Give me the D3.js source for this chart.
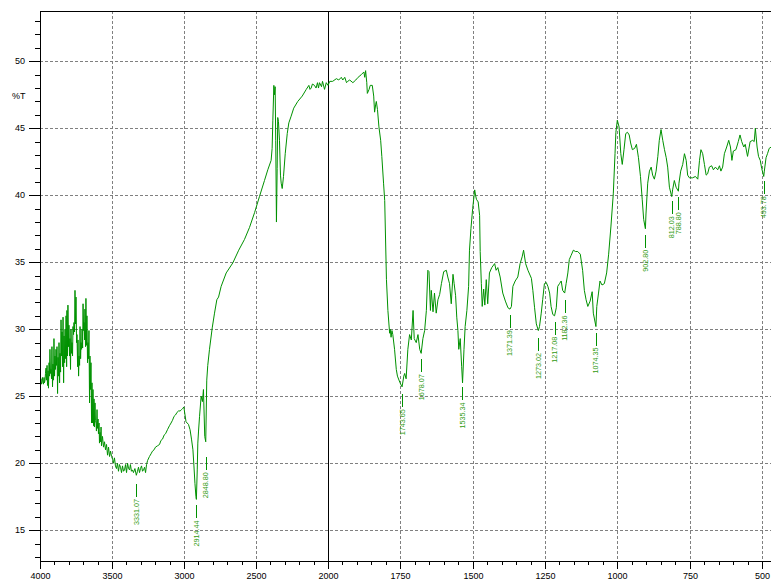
<!DOCTYPE html>
<html>
<head>
<meta charset="utf-8">
<script src="https://cdn.jsdelivr.net/npm/d3@7"></script>
<style>
html,body{margin:0;padding:0;background:#fff;}
svg{display:block;}
text{font-family:"Liberation Sans",Arial,sans-serif;}
</style>
</head>
<body>
<svg id="chart" width="771" height="582"></svg>
<script>
// ---- data: [wavenumber cm-1, %T] ----
const noiseSeg = [
[4000,26.0],[3997,26.2],[3993,26.3],[3990,25.9],[3986,26.1],[3983,26.4],[3979,26.0],[3976,25.9],[3972,26.4],[3969,26.0],
[3965,26.2],[3962,26.7],[3958,27.1],[3955,26.2],[3951,27.3],[3948,25.8],[3944,26.9],[3941,25.6],[3937,27.5],[3934,26.5],
[3931,28.5],[3927,26.7],[3924,27.0],[3920,26.3],[3917,28.7],[3913,25.7],[3910,27.4],[3906,26.2],[3903,29.3],[3899,26.5],
[3896,28.0],[3892,27.0],[3889,28.5],[3885,27.3],[3882,28.7],[3878,25.2],[3875,27.9],[3871,26.5],[3868,29.0],[3864,26.0],
[3861,28.2],[3857,26.8],[3854,30.7],[3850,28.0],[3847,29.8],[3843,27.2],[3840,30.9],[3836,26.0],[3833,29.5],[3829,27.5],
[3826,30.0],[3822,27.8],[3819,31.0],[3815,27.2],[3813,31.4],[3809,28.0],[3806,31.8],[3802,28.7],[3799,30.3],[3795,28.0],
[3792,29.3],[3788,27.0],[3785,30.0],[3781,28.2],[3778,29.0],[3774,28.0],[3771,30.2],[3767,29.6],[3764,30.5],[3760,29.8],
[3757,32.9],[3753,30.4],[3750,32.4],[3746,29.0],[3743,29.6],[3739,27.2],[3736,29.2],[3732,26.5],[3729,28.0],[3725,27.3],
[3722,30.2],[3718,27.8],[3715,29.0],[3711,28.5],[3708,30.0],[3704,28.6],[3701,31.9],[3697,29.9],[3694,30.5],[3690,29.2],
[3688,31.5],[3684,28.7],[3681,32.3],[3677,28.8],[3674,31.0],[3670,27.5],[3667,29.0],[3663,27.8],[3660,29.9],[3656,24.5],
[3653,28.0],[3649,25.5],[3646,27.5],[3642,23.0]
];
const ohSeg = [
[3639,26.0],[3635,23.0],[3632,25.5],[3628,22.8],[3625,24.8],[3622,22.7],[3618,24.5],[3615,23.2],[3611,23.0],[3608,22.4],
[3604,24.0],[3601,22.6],[3597,23.3],[3594,22.2],[3590,23.0],[3587,21.5],[3583,22.3],[3580,21.6],[3576,22.7],[3573,21.3],
[3566,22.0],[3559,21.2],[3552,21.6],[3545,21.0],[3538,21.4],[3531,20.6],[3524,21.2],[3517,20.5],[3510,20.9],[3503,20.5],
[3496,20.3],[3490,20.0],[3483,20.4],[3476,19.8],[3469,19.6],[3462,20.0],[3455,19.4],[3448,19.9],[3441,19.7],[3434,19.3],
[3427,19.8],[3420,19.4],[3413,19.5],[3406,19.9],[3399,19.3],[3392,20.0],[3385,19.6],[3378,19.5],[3372,19.9],[3365,19.4],
[3358,19.5],[3351,19.3],[3341,19.6],[3331,19.1],[3323,19.4],[3316,19.7],[3309,19.3],[3302,19.6],[3295,19.8],[3288,19.4],
[3281,19.5],[3274,19.7],[3267,19.3],[3260,19.9],[3253,20.2]
];
const chSeg = [
[3240,20.5],[3229,20.7],[3219,20.9],[3208,21.0],[3198,21.2],[3184,21.3],[3170,21.4],[3160,21.7],[3149,21.8],[3138,22.1],
[3128,22.2],[3115,22.5],[3101,22.8],[3090,23.0],[3080,23.2],[3069,23.5],[3059,23.6],[3048,23.8],[3038,23.9],[3027,23.9],
[3017,24.0],[3008,24.1],[3001,24.2],[2993,23.6],[2986,23.1],[2978,23.0],[2969,22.9],[2958,22.5],[2948,21.8],[2938,21.0],
[2931,19.8],[2924,18.5],[2917,17.5],[2914,17.3],[2908,19.5],[2904,21.5],[2899,22.4],[2892,23.5],[2881,25.0],[2872,24.6],
[2865,25.5],[2856,22.0],[2849,21.6],[2842,26.2],[2835,27.3],[2823,28.5],[2804,30.1],[2788,31.2],[2772,32.2],[2760,32.4],
[2742,33.2],[2707,34.2],[2661,34.95],[2620,35.9],[2580,36.7],[2545,37.6],[2510,38.7],[2476,39.9],[2441,41.1],[2418,41.9],
[2395,42.6],[2388,43.5],[2383,45.6],[2376,48.2],[2372,47.5],[2367,48.1],[2363,44.1],[2358,38.0],[2353,42.0],[2349,45.8],
[2344,45.5],[2337,44.1],[2330,41.5],[2325,40.9],[2318,40.5],[2309,41.4],[2297,43.1],[2283,44.6],[2272,45.4],[2256,45.9],
[2238,46.5],[2210,47.0],[2179,47.4],[2151,47.9],[2133,48.2],[2125,47.9],[2117,48.0],[2108,48.3],[2094,48.2],[2083,48.0],
[2073,48.4],[2066,48.0],[2059,48.4],[2045,48.1],[2038,48.5],[2024,47.9],[2012,48.4],[2000,48.2]
];
const plateauSeg = [
[1994,48.5],[1984,48.5],[1971,48.7],[1963,48.6],[1954,48.8],[1949,48.6],[1942,48.8],[1936,48.4],[1932,48.5],[1925,48.6],
[1914,48.4],[1904,48.6],[1896,48.8],[1885,49.0],[1876,49.2],[1873,48.8],[1870,49.3],[1866,48.4],[1864,47.6],[1858,47.9],
[1854,48.2],[1847,48.2],[1842,47.4],[1839,46.2],[1835,46.8],[1833,47.0],[1829,46.4],[1824,45.1],[1818,44.1],[1814,42.9],
[1808,40.9],[1804,39.6],[1798,33.7],[1793,31.4],[1787,29.7],[1785,30.0],[1782,29.4],[1779,29.9],[1776,29.6],[1770,28.5],
[1764,27.0],[1760,26.5],[1751,26.0],[1744,25.7],[1738,26.5],[1735,26.7],[1730,26.3],[1724,28.5],[1718,29.6],[1712,29.2],
[1706,31.4],[1702,29.3],[1695,29.0],[1689,29.6],[1683,28.5],[1678,28.2],[1672,29.3],[1666,29.9],[1660,31.4],[1655,34.4],
[1651,34.3],[1646,31.4],[1643,32.9],[1637,31.3],[1632,32.7],[1626,31.2],[1620,32.2],[1614,32.6],[1608,33.4],[1600,34.3],
[1591,34.4],[1586,33.9],[1580,33.4],[1574,31.9],[1568,34.1],[1564,33.4],[1559,32.5],[1555,30.9],[1551,29.9],[1548,28.5],
[1543,29.3],[1538,27.2],[1535,26.0],[1530,28.5],[1526,30.2],[1520,31.4],[1514,33.2],[1511,35.9],[1506,37.5],[1500,39.0]
];
const fingerprintSeg = [
[1493,40.4],[1490,40.0],[1487,39.7],[1481,39.5],[1476,38.5],[1474,35.8],[1470,33.4],[1467,31.7],[1462,33.0],[1458,31.8],
[1453,33.7],[1448,31.9],[1442,34.2],[1434,34.6],[1424,34.9],[1419,34.4],[1413,34.6],[1405,33.9],[1396,32.7],[1387,32.1],
[1378,31.6],[1371,31.5],[1366,31.7],[1361,33.2],[1353,33.6],[1344,33.9],[1336,34.9],[1329,35.4],[1324,35.9],[1317,34.9],
[1309,34.4],[1297,33.8],[1292,32.9],[1286,31.6],[1280,30.4],[1273,29.9],[1269,30.2],[1263,31.2],[1258,32.2],[1252,33.4],
[1246,33.5],[1240,33.2],[1234,32.7],[1229,31.7],[1223,31.1],[1217,31.0],[1211,31.6],[1206,33.2],[1200,33.4],[1194,33.6],
[1189,32.9],[1182,32.7],[1177,33.4],[1171,34.2],[1166,35.2],[1160,35.5],[1152,35.9],[1145,35.8],[1137,35.8],[1128,35.6],
[1120,34.4],[1114,32.9],[1108,32.2],[1102,31.7],[1094,32.1],[1087,32.8],[1083,31.2],[1074,30.2],[1071,31.7],[1065,32.7],
[1060,33.6],[1053,33.3],[1045,33.4],[1037,34.2],[1030,35.6],[1022,37.7],[1014,40.1],[1008,43.1],[1005,44.7],[1000,45.6]
];
const lowSeg = [
[994,45.1],[988,43.1],[983,42.3],[977,43.4],[971,44.6],[965,44.7],[959,44.5],[954,43.9],[948,43.4],[940,43.5],
[934,43.8],[927,42.8],[920,41.4],[914,39.7],[909,38.2],[903,37.5],[901,38.6],[895,40.9],[889,41.8],[883,42.1],
[878,41.5],[872,41.2],[866,41.8],[860,42.9],[855,44.1],[849,44.9],[843,44.1],[837,43.4],[831,42.8],[826,42.1],
[820,40.6],[812,39.9],[809,40.4],[803,41.1],[797,40.6],[789,40.3],[787,40.9],[781,41.8],[774,42.3],[768,43.1],
[762,42.6],[757,41.5],[751,41.3],[740,41.3],[730,41.4],[722,41.2],[716,42.6],[711,43.4],[705,43.1],[699,42.3],
[693,41.5],[688,41.6],[682,42.1],[674,42.2],[668,41.9],[661,42.1],[653,41.9],[647,42.2],[642,41.8],[636,42.1],
[630,43.1],[622,43.6],[615,44.1],[609,43.6],[604,42.6],[599,43.3],[590,43.4],[582,44.0],[576,44.5],[570,44.0],
[563,43.6],[558,43.8],[550,42.9],[541,44.0],[532,44.1],[527,44.0],[523,45.0],[517,43.6],[512,42.9],[506,42.6],
[501,42.0],[494,41.4],[492,41.8],[486,42.8],[481,43.1],[475,43.5],[468,43.6]
];
// peak labels: wavenumber, %T at peak
const peakWn = [3331.07,2914.44,2848.80,1743.65,1678.07,1535.34,1371.39,1273.02,1217.08,1182.36,1074.35,902.80,812.03,788.80,493.78];
const peakT  = [18.9,17.3,20.9,25.6,28.2,26.1,31.5,29.8,31.0,32.6,30.2,37.5,40.0,40.3,41.5];
// axis ticks
const xMajor = [4000,3500,3000,2500,2000,1750,1500,1250,1000,750,500];
const xMinorLeft = d3.range(4000, 2000, -100);
const xMinorRight = d3.range(2000, 450, -50);
const yMajor = [15,20,25,30,35,40,45,50];
const yMinor = d3.range(13, 54, 1);

(function draw() {
  const spectrum = [].concat(noiseSeg, ohSeg, chSeg, plateauSeg, fingerprintSeg, lowSeg);

  const svg = d3.select("#chart");
  const W = 771;
  const pLeft = 40, pTop = 11, pBottom = 561;

  // piecewise wavenumber scale (scale change at 2000 cm-1)
  const x = d3.scaleLinear().domain([4000, 2000, 500]).range([40, 328, 762]);
  const xr = x.copy().interpolate(d3.interpolateRound);
  const y = d3.scaleLinear().domain([53.75, 12.7]).range([11, 561.03]);
  const yr = y.copy().interpolate(d3.interpolateRound);

  const gridColor = "#808080";
  svg.append("g").selectAll("line").data(yMajor).join("line")
    .attr("x1", pLeft).attr("x2", W)
    .attr("y1", d => yr(d) + 0.5).attr("y2", d => yr(d) + 0.5)
    .attr("stroke", gridColor).attr("stroke-dasharray", "3,2")
    .attr("shape-rendering", "crispEdges");
  svg.append("g").selectAll("line").data(xMajor.filter(d => d !== 4000)).join("line")
    .attr("x1", d => xr(d) + 0.5).attr("x2", d => xr(d) + 0.5)
    .attr("y1", pTop).attr("y2", pBottom)
    .attr("stroke", d => d === 2000 ? "#000" : gridColor)
    .attr("stroke-dasharray", d => d === 2000 ? null : "3,2")
    .attr("shape-rendering", "crispEdges");

  const xAxisMajor = d3.axisBottom(xr).tickValues(xMajor).tickSize(8).tickFormat(d3.format("d"));
  const xAxisMinor = d3.axisBottom(xr).tickValues(xMinorLeft.concat(xMinorRight).filter(d => !xMajor.includes(d))).tickSize(4).tickFormat("");
  const gxm = svg.append("g").attr("transform", `translate(0,${pBottom})`).call(xAxisMinor);
  const gx = svg.append("g").attr("transform", `translate(0,${pBottom})`).call(xAxisMajor);
  [gx, gxm].forEach(g => {
    g.select(".domain").remove();
    g.selectAll("line").attr("stroke", "#000").attr("shape-rendering", "crispEdges");
  });
  gx.selectAll("text").attr("fill", "#000").attr("font-size", "9px").attr("y", 12).attr("dy", "0.71em")
    .attr("font-family", "Liberation Sans, Arial, sans-serif");

  const yAxisMajor = d3.axisLeft(yr).tickValues(yMajor).tickSize(11).tickPadding(4).tickFormat(d3.format("d"));
  const yAxisMinor = d3.axisLeft(yr).tickValues(yMinor.filter(d => !yMajor.includes(d))).tickSize(5).tickFormat("");
  const gym = svg.append("g").attr("transform", `translate(${pLeft},0)`).call(yAxisMinor);
  const gy = svg.append("g").attr("transform", `translate(${pLeft},0)`).call(yAxisMajor);
  [gy, gym].forEach(g => {
    g.select(".domain").remove();
    g.selectAll("line").attr("stroke", "#000").attr("shape-rendering", "crispEdges");
  });
  gy.selectAll("text").attr("fill", "#000").attr("font-size", "9px")
    .attr("font-family", "Liberation Sans, Arial, sans-serif");

  svg.append("line").attr("x1", pLeft + 0.5).attr("x2", pLeft + 0.5).attr("y1", pTop).attr("y2", pBottom + 1)
    .attr("stroke", "#000").attr("shape-rendering", "crispEdges");
  svg.append("line").attr("x1", pLeft).attr("x2", W).attr("y1", pBottom + 0.5).attr("y2", pBottom + 0.5)
    .attr("stroke", "#000").attr("shape-rendering", "crispEdges");
  svg.append("line").attr("x1", pLeft).attr("x2", W).attr("y1", pTop + 0.5).attr("y2", pTop + 0.5)
    .attr("stroke", "#000").attr("shape-rendering", "crispEdges");

  svg.append("text").attr("x", 12).attr("y", 99).attr("font-size", "9px").attr("fill", "#000").text("%T");

  const green = "#009100";
  const line = d3.line().x(d => x(d[0])).y(d => y(d[1]));
  svg.append("defs").append("clipPath").attr("id", "clip")
    .append("rect").attr("x", pLeft + 1).attr("y", pTop + 1).attr("width", W - pLeft).attr("height", pBottom - pTop - 1);
  svg.append("path").datum(spectrum)
    .attr("d", line).attr("fill", "none").attr("stroke", green).attr("stroke-width", 1)
    .attr("clip-path", "url(#clip)");

  const peaks = peakWn.map((w, i) => ({ w, t: peakT[i] }));
  const pg = svg.append("g").selectAll("g").data(peaks).join("g");
  pg.append("line")
    .attr("x1", d => Math.round(x(d.w)) + 0.5).attr("x2", d => Math.round(x(d.w)) + 0.5)
    .attr("y1", d => y(d.t) + 6).attr("y2", d => y(d.t) + 19)
    .attr("stroke", green).attr("shape-rendering", "crispEdges");
  pg.append("text")
    .attr("transform", d => `translate(${x(d.w) + 2.6},${y(d.t) + 21}) rotate(-90)`)
    .attr("text-anchor", "end")
    .attr("font-size", "7.2px")
    .attr("fill", "#2f9a10")
    .text(d => d.w.toFixed(2));
})();
</script>
</body>
</html>
